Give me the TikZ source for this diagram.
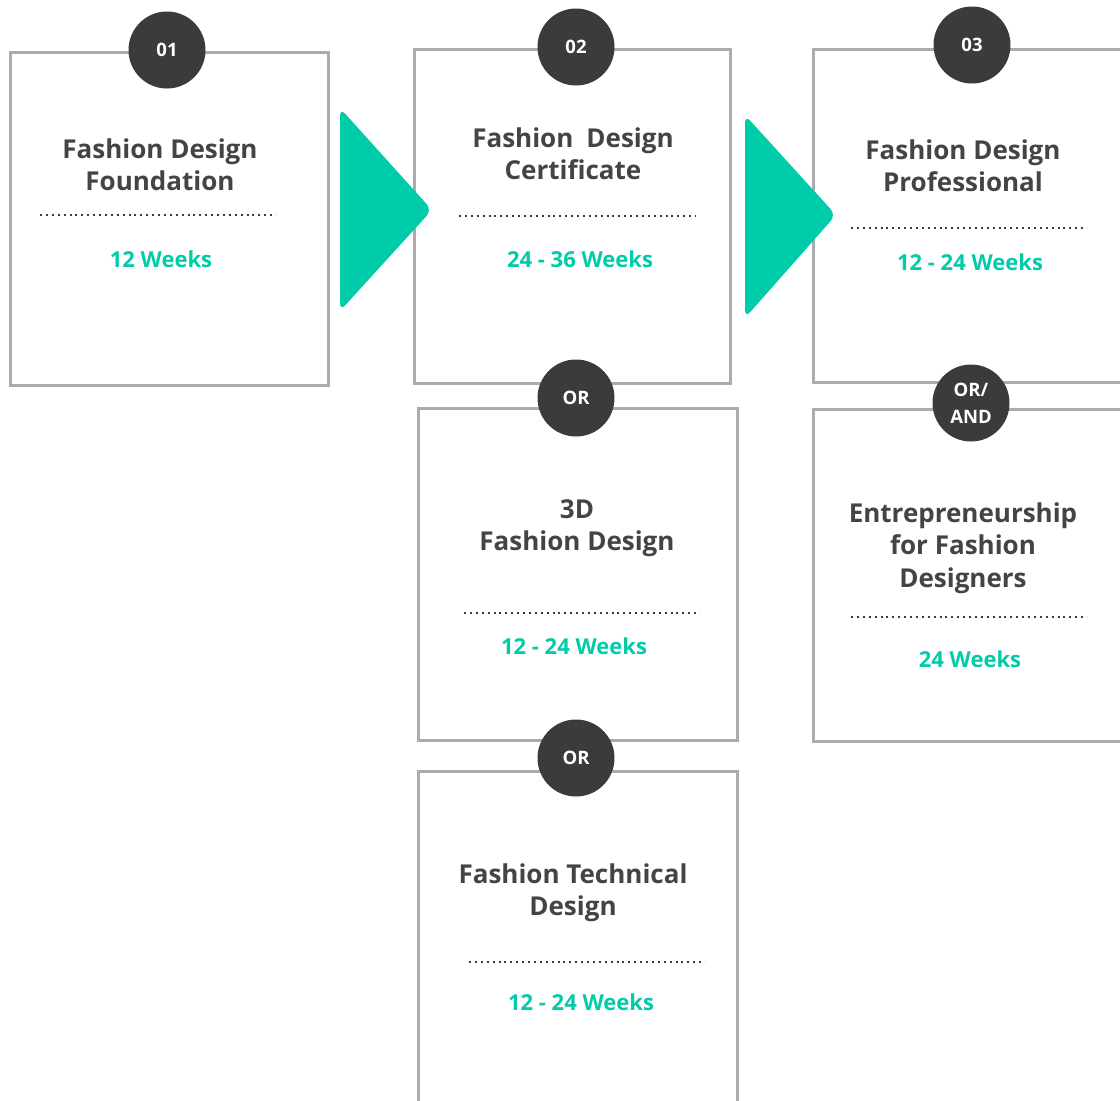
\documentclass[tikz,border=0pt]{standalone}
\usepackage{fontspec}
\setmainfont{Open Sans}
\definecolor{boxgray}{HTML}{ABABAB}
\definecolor{darkc}{HTML}{3B3B3B}
\definecolor{tealc}{HTML}{00CCA9}
\definecolor{txtc}{HTML}{444444}
\newcommand\topstrut{\rule{0pt}{21pt}}
\begin{document}
\begin{tikzpicture}[x=1pt,y=-1pt,
  box/.style={draw=boxgray, line width=2.6pt, fill=white, rectangle, anchor=north west, inner sep=0pt},
  badge/.style={circle, fill=darkc, minimum size=77pt, inner sep=0pt, text=white,
    font=\fontsize{18.5}{20}\selectfont\bfseries, align=center},
  title/.style={text=txtc, font=\fontsize{26}{32.5}\selectfont\bfseries, align=center, anchor=north, inner sep=0pt},
  weeks/.style={text=tealc, font=\fontsize{22}{26}\selectfont\bfseries, anchor=base, inner sep=0pt},
  sepline/.style={draw=darkc, line width=2pt, dash pattern=on 2pt off 3.9pt},
  arrowtri/.style={fill=tealc, rounded corners=8pt}]
\useasboundingbox (0,0) rectangle (1120,1101);
\clip (0,0) rectangle (1120,1101);
% boxes
\node[box, minimum width=318pt, minimum height=333pt] (b1) at (9,51) {};
\node[box, minimum width=316pt, minimum height=334pt] (b2) at (413,48) {};
\node[box, minimum width=340pt, minimum height=333pt] (b3) at (812,48) {};
\node[box, minimum width=319pt, minimum height=332pt] (b4) at (417,407) {};
\node[box, minimum width=319pt, minimum height=360pt] (b5) at (417,770) {};
\node[box, minimum width=340pt, minimum height=332pt] (b6) at (812,408) {};
% badges
\node[badge] (c1) at (167,50) {01};
\node[badge] (c2) at (576,47) {02};
\node[badge] (c3) at (972,45) {03};
\node[badge] (c4) at (576,398) {OR};
\node[badge] (c5) at (576,758) {OR};
\node[badge, font=\fontsize{18.5}{27}\selectfont\bfseries] (c6) at (971,403) {OR/\\AND};
% arrows
\fill[arrowtri] (340,108) -- (432,210) -- (340,311) -- cycle;
\fill[arrowtri] (745,115) -- (836,215) -- (745,318) -- cycle;
% titles
\node[title] (t1) at (160,137) {\topstrut Fashion Design\\Foundation};
\node[title] (t2) at (573,126) {\topstrut Fashion\hspace{0.5em}Design\\Certificate};
\node[title] (t3) at (963,138) {\topstrut Fashion Design\\Professional};
\node[title] (t4) at (577,497) {\topstrut 3D\\Fashion Design};
\node[title] (t5) at (573,862) {\topstrut Fashion Technical\\Design};
\node[title] (t6) at (963,501) {\topstrut Entrepreneurship\\for Fashion\\Designers};
% separators
\draw[sepline] (40,215) -- (276,215);
\draw[sepline] (459,216) -- (696,216);
\draw[sepline] (851,228) -- (1087,228);
\draw[sepline] (464,613) -- (700,613);
\draw[sepline] (469,962) -- (705,962);
\draw[sepline] (851,617) -- (1087,617);
% weeks
\node[weeks] (w1) at (161,267) {12 Weeks};
\node[weeks] (w2) at (580,267) {24 - 36 Weeks};
\node[weeks] (w3) at (970,270) {12 - 24 Weeks};
\node[weeks] (w4) at (574,654) {12 - 24 Weeks};
\node[weeks] (w5) at (581,1010) {12 - 24 Weeks};
\node[weeks] (w6) at (970,667) {24 Weeks};
\end{tikzpicture}
\end{document}
